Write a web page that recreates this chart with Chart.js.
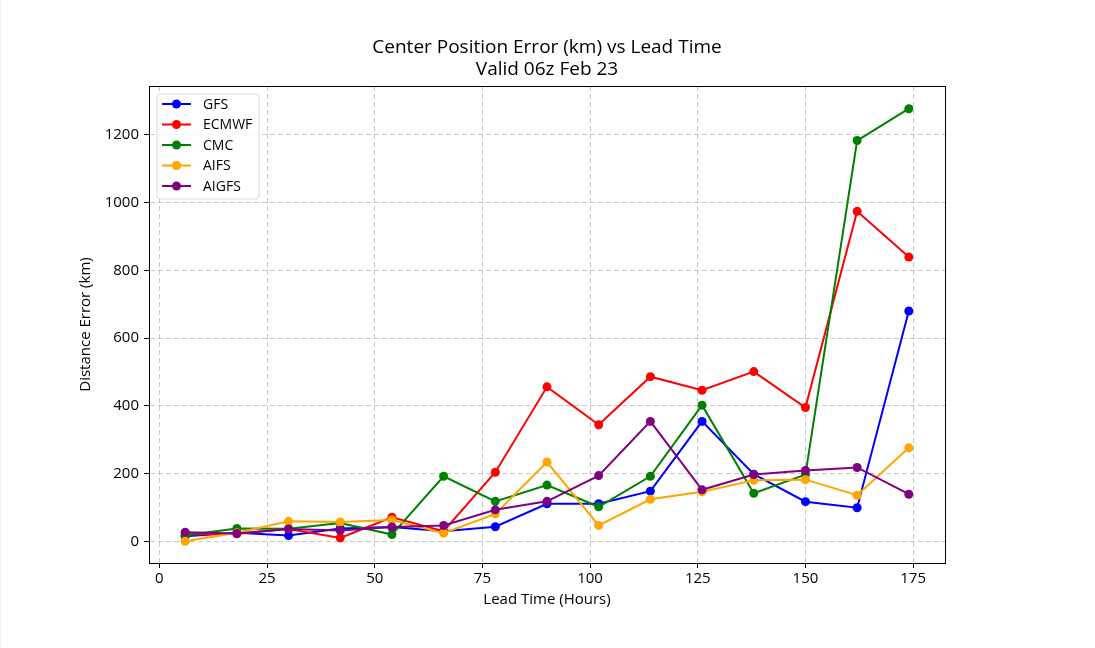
<!DOCTYPE html>
<html>
<head>
<meta charset="utf-8">
<script src="https://cdn.jsdelivr.net/npm/chart.js@4.4.1/dist/chart.umd.min.js"></script>
<style>
  html, body { margin: 0; padding: 0; background: #ffffff; }
  #wrap { width: 1095px; height: 648px; position: relative; box-sizing: border-box; border-left: 1px solid #eeeeee; }
  canvas { display: block; }
</style>
</head>
<body>
<div id="wrap"><canvas id="c" width="1094" height="648"></canvas></div>
<script>
const leadTimes = [6, 18, 30, 42, 54, 66, 78, 90, 102, 114, 126, 138, 150, 162, 174];
const seriesNames = ['GFS', 'ECMWF', 'CMC', 'AIFS', 'AIGFS'];
const seriesColors = ['#0000ff', '#ff0000', '#008000', '#ffa500', '#800080'];
const gfs   = [15, 25, 17, 38, 42, 30, 43, 111, 111, 148, 354, 198, 117, 99, 680];
const ecmwf = [20, 22, 36, 10, 71, 30, 204, 456, 344, 486, 446, 501, 395, 974, 839];
const cmc   = [18, 38, 37, 54, 20, 192, 118, 166, 102, 192, 402, 142, 197, 1183, 1277];
const aifs  = [0, 25, 59, 57, 63, 24, 81, 234, 47, 124, 146, 180, 182, 136, 276];
const aigfs = [27, 23, 36, 32, 42, 47, 93, 118, 194, 354, 152, 197, 209, 218, 139];
const xTicks = [0, 25, 50, 75, 100, 125, 150, 175];
const yTicks = [0, 200, 400, 600, 800, 1000, 1200];
const titleLines = ['Center Position Error (km) vs Lead Time', 'Valid 06z Feb 23'];
const allSeries = [gfs, ecmwf, cmc, aifs, aigfs];

const FONT = "'Open Sans', 'DejaVu Sans', sans-serif";

const datasets = allSeries.map((vals, i) => ({
  label: seriesNames[i],
  data: vals.map((v, j) => ({ x: leadTimes[j], y: v })),
  borderColor: seriesColors[i],
  backgroundColor: seriesColors[i],
  pointBackgroundColor: seriesColors[i],
  pointBorderColor: seriesColors[i],
  pointRadius: 4.5,
  pointBorderWidth: 0,
  borderWidth: 2,
  tension: 0,
  order: allSeries.length - i
}));

const framePlugin = {
  id: 'frame',
  afterDraw(chart) {
    const { ctx, chartArea: a } = chart;
    ctx.save();
    ctx.strokeStyle = '#000';
    ctx.lineWidth = 1;
    ctx.strokeRect(Math.round(a.left) + 0.5, Math.round(a.top) + 0.5, Math.round(a.right - a.left), Math.round(a.bottom - a.top));
    // title centred over the axes
    ctx.fillStyle = '#000';
    ctx.font = "19px " + FONT;
    ctx.textAlign = 'center';
    ctx.textBaseline = 'middle';
    const cx = (a.left + a.right) / 2;
    titleLines.forEach((t, i) => ctx.fillText(t, cx, 48 + i * 22));
    ctx.restore();
  }
};

const legendPlugin = {
  id: 'innerLegend',
  afterDraw(chart) {
    const { ctx, chartArea: a } = chart;
    const x0 = a.left + 8, y0 = a.top + 8;
    const w = 102, h = 105;
    ctx.save();
    ctx.beginPath();
    const r = 3;
    ctx.moveTo(x0 + r, y0);
    ctx.lineTo(x0 + w - r, y0);
    ctx.arcTo(x0 + w, y0, x0 + w, y0 + r, r);
    ctx.lineTo(x0 + w, y0 + h - r);
    ctx.arcTo(x0 + w, y0 + h, x0 + w - r, y0 + h, r);
    ctx.lineTo(x0 + r, y0 + h);
    ctx.arcTo(x0, y0 + h, x0, y0 + h - r, r);
    ctx.lineTo(x0, y0 + r);
    ctx.arcTo(x0, y0, x0 + r, y0, r);
    ctx.closePath();
    ctx.fillStyle = 'rgba(255,255,255,0.8)';
    ctx.fill();
    ctx.strokeStyle = '#d9d9d9';
    ctx.lineWidth = 1;
    ctx.stroke();
    chart.data.datasets.forEach((ds, i) => {
      const cy = y0 + 10 + i * 20.5;
      ctx.strokeStyle = ds.borderColor;
      ctx.lineWidth = 2;
      ctx.beginPath();
      ctx.moveTo(x0 + 5, cy);
      ctx.lineTo(x0 + 34, cy);
      ctx.stroke();
      ctx.fillStyle = ds.borderColor;
      ctx.beginPath();
      ctx.arc(x0 + 19.5, cy, 4.5, 0, Math.PI * 2);
      ctx.fill();
      ctx.fillStyle = '#000';
      ctx.font = "14px " + FONT;
      ctx.textBaseline = 'middle';
      ctx.textAlign = 'left';
      ctx.fillText(ds.label, x0 + 46, cy + 1);
    });
    ctx.restore();
  }
};

const gridOpts = { color: 'rgba(176,176,176,0.7)', lineWidth: 1, tickLength: 5, tickColor: '#000', tickBorderDash: [], tickWidth: 1 };
const borderOpts = { display: true, color: '#000', width: 1, dash: [5, 3] };

new Chart(document.getElementById('c'), {
  type: 'line',
  data: { datasets },
  plugins: [framePlugin, legendPlugin],
  options: {
    responsive: false,
    animation: false,
    layout: { padding: { left: 0, right: 150, top: 86, bottom: 0 } },
    plugins: {
      legend: { display: false },
      tooltip: { enabled: false },
      title: { display: false }
    },
    scales: {
      x: {
        type: 'linear',
        min: -2.4,
        max: 182.4,
        afterBuildTicks(scale) { scale.ticks = xTicks.map(v => ({ value: v })); },
        afterFit(scale) { scale.height = 85; },
        ticks: { color: '#000', font: { family: FONT, size: 15 }, padding: 2, maxRotation: 0, autoSkip: false, callback: v => String(v) },
        grid: gridOpts,
        border: borderOpts,
        title: { display: true, text: 'Lead Time (Hours)', color: '#000', font: { family: FONT, size: 15 }, padding: { top: 0, bottom: 39 } }
      },
      y: {
        type: 'linear',
        min: -64,
        max: 1344,
        afterBuildTicks(scale) { scale.ticks = yTicks.map(v => ({ value: v })); },
        afterFit(scale) { scale.width = 148; },
        ticks: { color: '#000', font: { family: FONT, size: 15 }, padding: 5, autoSkip: false, callback: v => String(v) },
        grid: gridOpts,
        border: borderOpts,
        title: { display: true, text: 'Distance Error (km)', color: '#000', font: { family: FONT, size: 15 }, padding: { top: 76, bottom: 0 } }
      }
    }
  }
});
</script>
</body>
</html>
